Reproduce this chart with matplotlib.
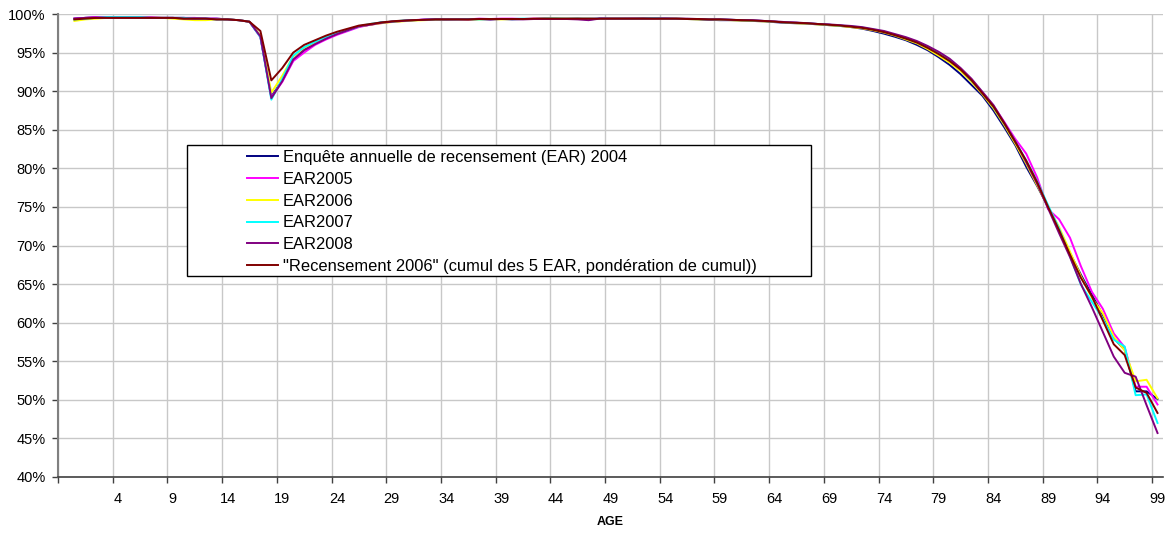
import matplotlib.pyplot as plt
from matplotlib.patches import Rectangle
from matplotlib.ticker import FuncFormatter

plt.rcParams['font.family'] = ['Liberation Sans', 'DejaVu Sans']

# ages 0..99, share in %
ages = list(range(100))

ear2004 = [99.4, 99.5, 99.6, 99.6, 99.6, 99.6, 99.6, 99.5, 99.5, 99.5,
           99.5, 99.4, 99.4, 99.4, 99.3, 99.2, 99.0, 97.1, 89.3, 91.4,
           94.0, 95.4, 96.2, 96.8, 97.4, 97.9, 98.4, 98.6, 98.9, 99.0,
           99.1, 99.2, 99.25, 99.3, 99.3, 99.35, 99.3, 99.35, 99.3, 99.35,
           99.3, 99.35, 99.35, 99.4, 99.4, 99.35, 99.4, 99.3, 99.4, 99.4,
           99.4, 99.4, 99.45, 99.4, 99.4, 99.35, 99.35, 99.3, 99.25, 99.2,
           99.2, 99.15, 99.1, 99.05, 98.95, 98.85, 98.8, 98.75, 98.65, 98.55,
           98.45, 98.3, 98.1, 97.8, 97.45, 97.05, 96.6, 96.0, 95.3, 94.4,
           93.4, 92.2, 90.8, 89.4, 87.5, 85.3, 83.0, 80.2, 77.7, 75.0,
           72.1, 69.0, 66.2, 63.6, 61.0, 58.0, 56.5, 51.1, 51.1, 50.1]

ear2005 = [99.4, 99.5, 99.6, 99.6, 99.6, 99.6, 99.6, 99.6, 99.5, 99.5,
           99.5, 99.5, 99.4, 99.4, 99.3, 99.2, 99.0, 97.0, 89.2, 91.2,
           93.9, 95.0, 96.0, 96.7, 97.3, 97.8, 98.3, 98.6, 98.8, 99.0,
           99.1, 99.2, 99.3, 99.3, 99.3, 99.3, 99.3, 99.4, 99.35, 99.4,
           99.4, 99.35, 99.4, 99.4, 99.35, 99.4, 99.4, 99.4, 99.4, 99.4,
           99.4, 99.45, 99.4, 99.4, 99.4, 99.4, 99.35, 99.35, 99.3, 99.3,
           99.25, 99.2, 99.15, 99.1, 99.0, 98.9, 98.85, 98.8, 98.7, 98.6,
           98.5, 98.35, 98.2, 97.95, 97.65, 97.3, 96.85, 96.35, 95.7, 94.9,
           94.0, 92.9, 91.5, 89.8, 88.1, 86.0, 83.8, 81.9, 78.8, 74.7,
           73.4, 71.0, 67.3, 64.0, 61.8, 58.6, 56.8, 51.7, 51.7, 49.4]

ear2006 = [99.1, 99.3, 99.4, 99.5, 99.5, 99.5, 99.5, 99.5, 99.5, 99.4,
           99.3, 99.2, 99.2, 99.3, 99.3, 99.2, 99.0, 97.2, 89.8, 92.0,
           94.5, 95.6, 96.3, 97.0, 97.5, 98.0, 98.4, 98.6, 98.8, 98.95,
           99.05, 99.15, 99.2, 99.25, 99.3, 99.3, 99.3, 99.3, 99.35, 99.3,
           99.35, 99.35, 99.35, 99.4, 99.4, 99.4, 99.4, 99.4, 99.35, 99.4,
           99.4, 99.4, 99.4, 99.4, 99.35, 99.4, 99.35, 99.3, 99.3, 99.25,
           99.2, 99.15, 99.1, 99.05, 99.0, 98.9, 98.8, 98.75, 98.65, 98.55,
           98.45, 98.3, 98.15, 97.9, 97.6, 97.2, 96.7, 96.2, 95.45, 94.6,
           93.7, 92.6, 91.2, 89.6, 87.8, 85.6, 83.2, 80.6, 77.8, 75.0,
           72.4, 69.2, 66.0, 63.2, 61.2, 58.2, 56.4, 52.4, 52.6, 50.2]

ear2007 = [99.3, 99.4, 99.5, 99.6, 99.6, 99.6, 99.6, 99.5, 99.5, 99.5,
           99.5, 99.4, 99.4, 99.3, 99.3, 99.2, 99.0, 97.0, 88.9, 91.6,
           94.6, 95.7, 96.4, 97.0, 97.5, 97.9, 98.4, 98.7, 98.9, 99.0,
           99.15, 99.2, 99.25, 99.3, 99.3, 99.3, 99.35, 99.3, 99.35, 99.35,
           99.35, 99.4, 99.35, 99.4, 99.4, 99.4, 99.4, 99.4, 99.4, 99.4,
           99.4, 99.4, 99.4, 99.45, 99.4, 99.4, 99.35, 99.35, 99.3, 99.3,
           99.25, 99.2, 99.15, 99.1, 99.0, 98.9, 98.85, 98.8, 98.7, 98.6,
           98.5, 98.4, 98.25, 98.0, 97.7, 97.3, 96.85, 96.35, 95.7, 94.9,
           94.0, 92.9, 91.4, 89.8, 88.0, 85.8, 83.5, 81.0, 78.3, 75.2,
           72.2, 68.6, 64.9, 62.7, 60.5, 57.8, 56.9, 50.6, 50.7, 47.0]

ear2008 = [99.4, 99.5, 99.5, 99.5, 99.5, 99.5, 99.5, 99.5, 99.5, 99.5,
           99.4, 99.4, 99.4, 99.3, 99.3, 99.2, 99.0, 97.1, 89.1, 91.3,
           94.1, 95.3, 96.1, 96.8, 97.4, 97.9, 98.4, 98.6, 98.85, 99.0,
           99.1, 99.2, 99.25, 99.3, 99.3, 99.3, 99.3, 99.35, 99.3, 99.35,
           99.35, 99.3, 99.35, 99.35, 99.35, 99.35, 99.3, 99.2, 99.4, 99.4,
           99.4, 99.4, 99.4, 99.4, 99.4, 99.4, 99.4, 99.35, 99.3, 99.3,
           99.25, 99.2, 99.2, 99.1, 99.05, 98.95, 98.9, 98.8, 98.7, 98.65,
           98.55, 98.45, 98.3, 98.05, 97.8, 97.4, 97.0, 96.5, 95.85, 95.1,
           94.2, 93.0, 91.6, 89.9, 88.2, 85.9, 83.5, 80.8, 78.0, 74.8,
           71.6, 68.5, 65.0, 62.0, 58.8, 55.6, 53.5, 53.0, 49.3, 45.7]

rp2006 = [99.3, 99.4, 99.5, 99.5, 99.5, 99.5, 99.5, 99.5, 99.5, 99.5,
          99.4, 99.4, 99.4, 99.3, 99.3, 99.2, 99.0, 97.8, 91.4, 93.0,
          95.0, 96.0, 96.6, 97.2, 97.7, 98.1, 98.5, 98.7, 98.9, 99.05,
          99.15, 99.2, 99.25, 99.3, 99.3, 99.3, 99.3, 99.35, 99.35, 99.35,
          99.35, 99.35, 99.4, 99.4, 99.4, 99.4, 99.4, 99.4, 99.4, 99.4,
          99.4, 99.4, 99.4, 99.4, 99.4, 99.4, 99.35, 99.35, 99.3, 99.3,
          99.25, 99.2, 99.15, 99.1, 99.0, 98.9, 98.85, 98.8, 98.7, 98.6,
          98.5, 98.35, 98.2, 97.95, 97.65, 97.25, 96.8, 96.3, 95.6, 94.8,
          93.9, 92.8, 91.4, 89.7, 88.0, 85.8, 83.4, 81.0, 78.2, 75.0,
          72.0, 68.8, 65.8, 63.4, 60.3, 57.2, 55.8, 51.6, 50.9, 48.3]

series_labels = ["Enquête annuelle de recensement (EAR) 2004", "EAR2005", "EAR2006",
                 "EAR2007", "EAR2008",
                 "\"Recensement 2006\" (cumul des 5 EAR, pondération de cumul))"]
series_colors = ["#000080", "#ff00ff", "#ffff00", "#00ffff", "#800080", "#800000"]
series = [ear2004, ear2005, ear2006, ear2007, ear2008, rp2006]

fig = plt.figure(figsize=(11.71, 5.33), dpi=100)
ax = fig.add_axes([58 / 1171, 1 - 477 / 533, 1105 / 1171, 463 / 533])

for vals, lab, col in zip(series, series_labels, series_colors):
    ax.plot(ages, vals, color=col, lw=1.4, label=lab, zorder=3)

ax.set_xlim(-1.5, 99.5)
ax.set_ylim(40, 100)

# tick marks between categories, labels on the categories
ax.set_xticks([x - 0.5 for x in range(-1, 100, 5)])
ax.set_xticklabels([])
ax.set_xticks(list(range(4, 100, 5)), minor=True)
ax.set_xticklabels([str(a) for a in range(4, 100, 5)], minor=True)
ax.tick_params(axis='x', which='major', length=4, width=1, color='#404040', direction='out')
ax.tick_params(axis='x', which='minor', length=0, pad=11, labelsize=10.5)
ax.set_yticks(range(40, 101, 5))
ax.yaxis.set_major_formatter(FuncFormatter(lambda v, p: f"{v:.0f}%"))
ax.tick_params(axis='y', length=4, width=1, color='#404040', pad=5, labelsize=10.5)

ax.grid(True, which='major', color='#c8c8c8', lw=1)
ax.set_axisbelow(True)
for s in ['top', 'right']:
    ax.spines[s].set_visible(False)
ax.spines['left'].set_color('#808080')
ax.spines['left'].set_linewidth(1.5)
ax.spines['bottom'].set_color('#404040')
ax.spines['bottom'].set_linewidth(1.2)

fig.text(610.5 / 1171, 1 - 522 / 533, "AGE", fontsize=9, fontweight='bold',
         ha='center', va='center')

# legend box (Excel style, wide frame with text offset)
bx0, bx1 = (187 - 58) / 1105, (811 - 58) / 1105
by0, by1 = (477 - 276) / 463, (477 - 145) / 463
ax.add_patch(Rectangle((bx0, by0), bx1 - bx0, by1 - by0, transform=ax.transAxes,
                       facecolor='white', edgecolor='black', lw=1, zorder=4))
leg = ax.legend(loc='upper left', bbox_to_anchor=((247 - 58) / 1105, (477 - 150) / 463),
                frameon=False, fontsize=11.9, handlelength=1.85, handletextpad=0.3,
                labelspacing=0.41, borderpad=0, borderaxespad=0)
leg.set_zorder(5)

fig.savefig("out.png", dpi=100)
